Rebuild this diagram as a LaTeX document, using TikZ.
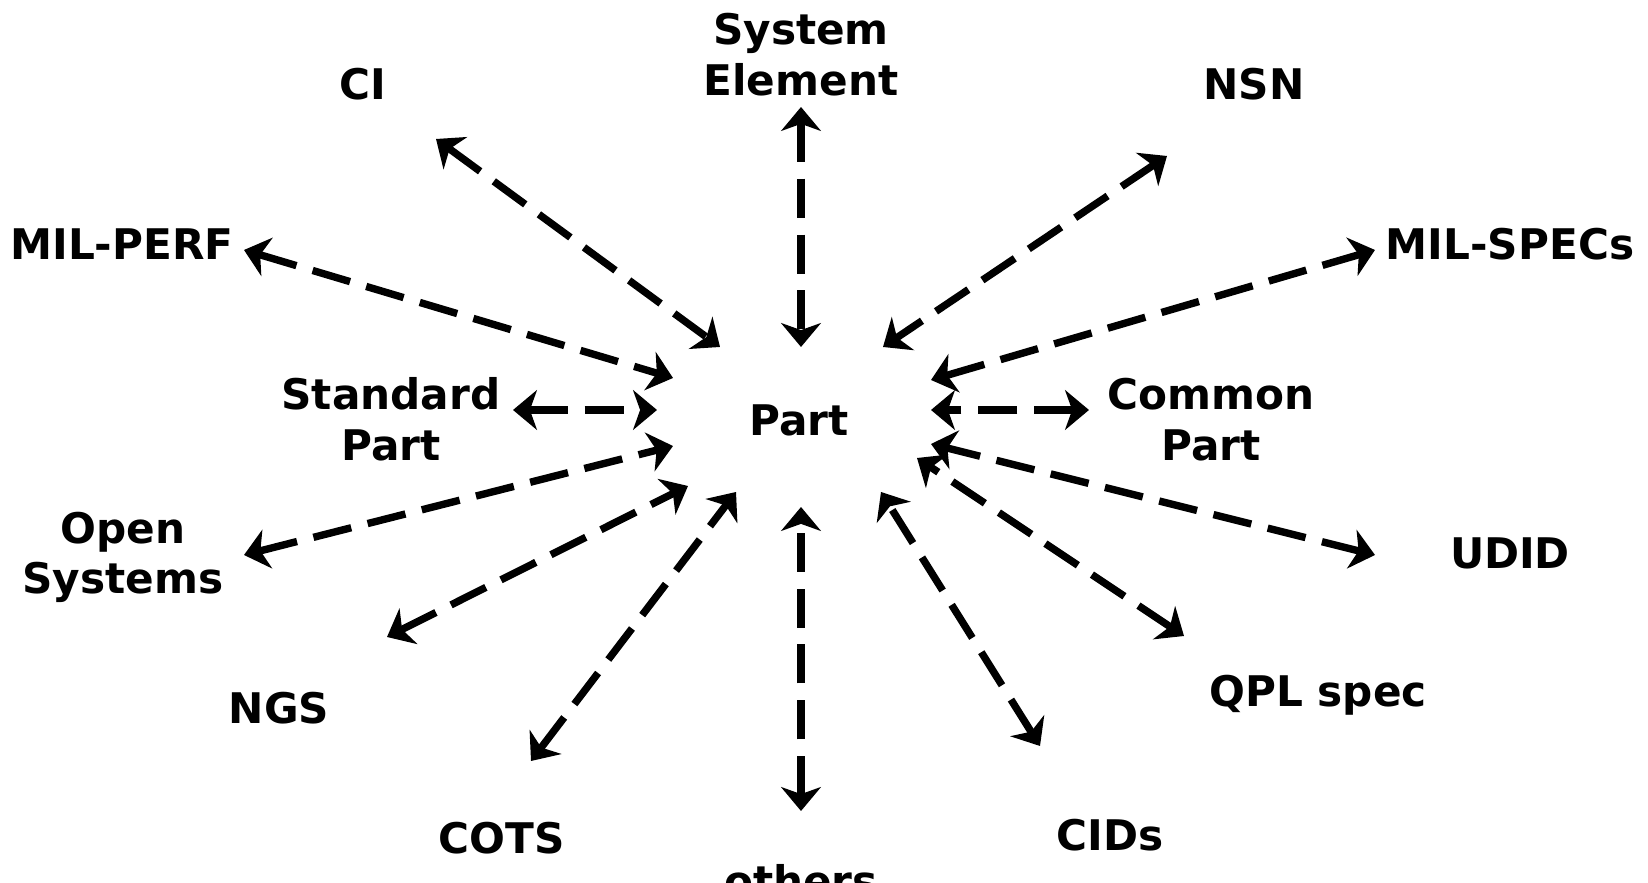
\documentclass[tikz,border=0pt]{standalone}
\usepackage{fontspec}
\setmainfont{DejaVu Sans}
\usetikzlibrary{arrows.meta}
\begin{document}
\begin{tikzpicture}[x=0.01cm,y=-0.01cm,
  lbl/.style={font=\bfseries\fontsize{12}{14.5}\selectfont, align=center, inner sep=0pt, anchor=base},
  tip/.tip={Stealth[length=6.8pt,width=11.3pt,inset=2pt]},
  link/.style={line width=2.1pt, dash pattern=on 11.1pt off 4.8pt, tip-tip}]
\useasboundingbox (0,0) rectangle (1648,883);
% labels
\node[lbl] (se) at (801,96) {System\\Element};
\node[lbl] (ci) at (363,100) {CI};
\node[lbl] (nsn) at (1254,100) {NSN};
\node[lbl] (mp) at (122,260) {MIL-PERF};
\node[lbl] (ms) at (1510,260) {MIL-SPECs};
\node[lbl] (sp) at (391,461) {Standard\\Part};
\node[lbl] (part) at (799,436) {Part};
\node[lbl] (cp) at (1211,461) {Common\\Part};
\node[lbl] (os) at (123,594) {Open\\Systems};
\node[lbl] (udid) at (1510,569) {UDID};
\node[lbl] (ngs) at (279,724) {NGS};
\node[lbl] (qpl) at (1318,707) {QPL spec};
\node[lbl] (cots) at (502,854) {COTS};
\node[lbl] (cids) at (1110,851) {CIDs};
\node[lbl] (oth) at (801,897) {others};
% connector ends
\coordinate (ciA) at (436,139);  \coordinate (ciB) at (720,347);
\coordinate (seA) at (801,107);  \coordinate (seB) at (801,347);
\coordinate (nsnA) at (1167,156); \coordinate (nsnB) at (883,347);
\coordinate (mpA) at (244,250);  \coordinate (mpB) at (673,378);
\coordinate (msA) at (1375,250); \coordinate (msB) at (931,380);
\coordinate (spA) at (513,410);  \coordinate (spB) at (657,410);
\coordinate (cpA) at (1089,410); \coordinate (cpB) at (931,410);
\coordinate (osA) at (244,555);  \coordinate (osB) at (673,446);
\coordinate (udA) at (1375,555); \coordinate (udB) at (931,444);
\coordinate (ngA) at (387,637);  \coordinate (ngB) at (688,486);
\coordinate (qpA) at (1184,636); \coordinate (qpB) at (917,458);
\coordinate (coA) at (531,761);  \coordinate (coB) at (736,492);
\coordinate (cdA) at (1040,746); \coordinate (cdB) at (881,492);
\coordinate (otA) at (801,811);  \coordinate (otB) at (801,507);
\foreach \a/\b in {ciA/ciB,seA/seB,nsnA/nsnB,mpA/mpB,msA/msB,spA/spB,cpA/cpB,osA/osB,udA/udB,ngA/ngB,qpA/qpB,coA/coB,cdA/cdB,otA/otB}
  \draw[link] (\a) -- (\b);
\end{tikzpicture}
\end{document}
